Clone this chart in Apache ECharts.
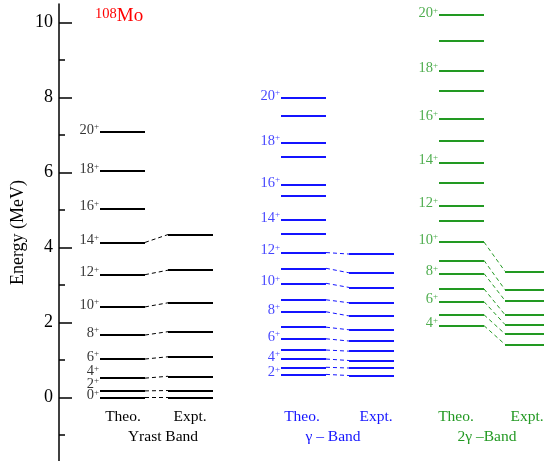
<!DOCTYPE html>
<html><head><meta charset="utf-8">
<script src="https://cdn.jsdelivr.net/npm/echarts@6/dist/echarts.min.js"></script>
<style>html,body{margin:0;padding:0;background:#fff}#c{width:544px;height:461px}</style>
</head><body><div id="c"></div>
<script>
// ---- data (MeV) ----
const yrastSpins = [0, 2, 4, 6, 8, 10, 12, 14, 16, 18, 20];
const yrastTheo  = [0, 0.18, 0.52, 1.03, 1.67, 2.42, 3.28, 4.14, 5.05, 6.04, 7.09];
const yrastExpt  = [0, 0.19, 0.57, 1.09, 1.76, 2.53, 3.40, 4.35];

const gammaSpins = [2, 3, 4, 5, 6, 7, 8, 9, 10, 11, 12, 13, 14, 15, 16, 17, 18, 19, 20];
const gammaTheo  = [0.62, 0.81, 1.03, 1.27, 1.57, 1.88, 2.29, 2.61, 3.05, 3.45, 3.87, 4.38, 4.74, 5.39, 5.67, 6.43, 6.79, 7.51, 8.00];
const gammaExpt  = [0.59, 0.79, 0.99, 1.24, 1.51, 1.81, 2.18, 2.53, 2.94, 3.33, 3.83];

const g2Spins = [4, 5, 6, 7, 8, 9, 10, 11, 12, 13, 14, 15, 16, 17, 18, 19, 20];
const g2Theo  = [1.92, 2.21, 2.56, 2.90, 3.31, 3.66, 4.15, 4.71, 5.13, 5.73, 6.27, 6.86, 7.45, 8.19, 8.73, 9.53, 10.20];
const g2Expt  = [1.42, 1.70, 1.95, 2.21, 2.59, 2.88, 3.37];

const majorTicks = [0, 2, 4, 6, 8, 10];
const minorTicks = [-1, 1, 3, 5, 7, 9];

// ---- layout (x axis units) ----
const bands = [
  {spins: yrastSpins, theo: yrastTheo, expt: yrastExpt, color: '#000000', tx: [41, 86], ex: [109, 154], labelEven: false, name: 'Yrast Band', cx: [123, 190, 163]},
  {spins: gammaSpins, theo: gammaTheo, expt: gammaExpt, color: '#1414ff', tx: [222, 267], ex: [290, 335], labelEven: true, name: 'γ – Band', cx: [302, 376, 333]},
  {spins: g2Spins, theo: g2Theo, expt: g2Expt, color: '#229922', tx: [380, 425], ex: [446, 485], labelEven: true, name: '2γ –Band', cx: [456, 527, 487]}
];
const labelShift = {'0-2': -5, '0-4': -5};

const FONT = '"Liberation Serif", "DejaVu Serif", serif';
const series = [];
const graphics = [];
bands.forEach((b, bi) => {
  series.push({
    type: 'lines', coordinateSystem: 'cartesian2d', silent: true, z: 3,
    lineStyle: {color: b.color, width: 2, opacity: 1},
    data: b.theo.map(e => ({coords: [[b.tx[0], e], [b.tx[1], e]]}))
  });
  series.push({
    type: 'lines', coordinateSystem: 'cartesian2d', silent: true, z: 3,
    lineStyle: {color: b.color, width: 2, opacity: 1},
    data: b.expt.map(e => ({coords: [[b.ex[0], e], [b.ex[1], e]]}))
  });
  series.push({
    type: 'lines', coordinateSystem: 'cartesian2d', silent: true, z: 2,
    lineStyle: {color: b.color, width: 1, type: [4, 3], opacity: 1},
    data: b.expt.map((e, i) => ({coords: [[b.tx[1], b.theo[i]], [b.ex[0], e]]}))
  });
  const lab = [];
  b.spins.forEach((s, i) => {
    if (b.labelEven && s % 2 !== 0) return;
    lab.push({value: [b.tx[0], b.theo[i], s], label: {offset: [0, (labelShift[bi + '-' + s] || 0) - 2]}});
  });
  series.push({
    type: 'scatter', symbolSize: 0, silent: true, z: 4,
    data: lab,
    label: {
      show: true, position: 'left', distance: 1,
      formatter: p => '{n|' + p.value[2] + '}{s|+}',
      rich: {
        n: {fontFamily: FONT, fontSize: 14.5, color: b.color, lineHeight: 15, verticalAlign: 'bottom'},
        s: {fontFamily: FONT, fontSize: 9, color: b.color, verticalAlign: 'top', lineHeight: 9, padding: [0, 0, 9, 0]}
      }
    }
  });
  const mk = (x, y, t) => ({type: 'text', x: x, y: y, style: {text: t, font: '15.5px ' + FONT, fill: b.color, textAlign: 'center', textVerticalAlign: 'middle'}});
  graphics.push(mk(b.cx[0], 417, 'Theo.'));
  graphics.push(mk(b.cx[1], 417, 'Expt.'));
  graphics.push(mk(b.cx[2], 437, b.name));
});

graphics.push({type: 'text', x: 95, y: 7, style: {
  text: '{a|108}{b|Mo}', font: '19px ' + FONT, fill: '#ff0000',
  rich: {a: {font: '14.5px ' + FONT, fill: '#ff0000', verticalAlign: 'top', lineHeight: 14}, b: {font: '19px ' + FONT, fill: '#ff0000', lineHeight: 19, verticalAlign: 'bottom', padding: [5, 0, 0, 0]}}
}});

const chart = echarts.init(document.getElementById('c'), null, {renderer: 'canvas'});
chart.setOption({
  animation: false,
  grid: {left: 59, right: 0, top: 4, bottom: 0, containLabel: false, outerBoundsMode: 'none'},
  xAxis: {type: 'value', min: 0, max: 485, show: false},
  yAxis: [
    {type: 'value', min: -1.69, max: 10.5, position: 'left',
     name: 'Energy (MeV)', nameLocation: 'middle', nameGap: 32, nameRotate: 90, nameMoveOverlap: false,
     nameTextStyle: {fontFamily: FONT, fontSize: 18, color: '#000'},
     axisLine: {show: true, onZero: false, lineStyle: {color: '#000', width: 1.5}},
     axisTick: {show: true, inside: true, length: 13, customValues: majorTicks, lineStyle: {color: '#000', width: 1.5}},
     axisLabel: {show: true, customValues: majorTicks, margin: 6, fontFamily: FONT, fontSize: 18, color: '#000'},
     splitLine: {show: false}},
    {type: 'value', min: -1.69, max: 10.5, position: 'left',
     axisLine: {show: false},
     axisTick: {show: true, inside: true, length: 6, customValues: minorTicks, lineStyle: {color: '#000', width: 1.5}},
     axisLabel: {show: false}, splitLine: {show: false}}
  ],
  series: series,
  graphic: graphics
});
</script></body></html>
